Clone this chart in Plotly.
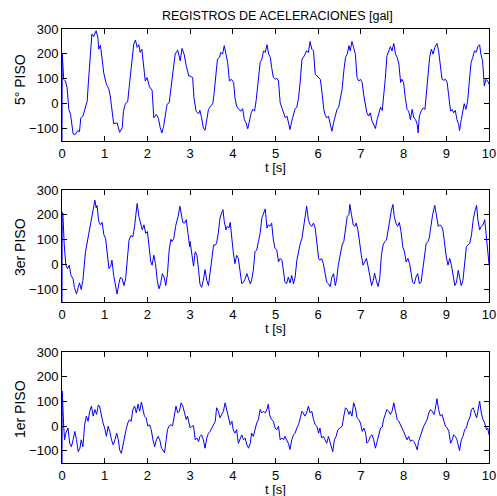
import plotly.graph_objects as go

# ---------------- data ----------------
# 5° PISO
t_p5 = [0, 0.005, 0.04, 0.08, 0.12, 0.16, 0.2, 0.26, 0.31, 0.37,
        0.41, 0.44, 0.49, 0.55, 0.59, 0.62, 0.66, 0.70, 0.74, 0.80,
        0.84, 0.86, 0.90, 0.94, 0.98, 1.04, 1.09, 1.13, 1.17, 1.21,
        1.29, 1.35, 1.41, 1.44, 1.48, 1.54, 1.58, 1.64, 1.68, 1.72,
        1.76, 1.80, 1.83, 1.87, 1.91, 1.95, 1.99, 2.05, 2.11, 2.15,
        2.21, 2.26, 2.30, 2.34, 2.38, 2.42, 2.46, 2.51, 2.55, 2.60,
        2.65, 2.71, 2.77, 2.81, 2.86, 2.91, 2.97,
        3.0, 3.06, 3.09, 3.14, 3.2, 3.23, 3.27, 3.31, 3.35, 3.39,
        3.43, 3.48, 3.53, 3.56, 3.61, 3.64, 3.69, 3.72, 3.76, 3.80,
        3.84, 3.88, 3.92, 3.97, 4.02, 4.05, 4.09, 4.14, 4.19, 4.23,
        4.27, 4.31, 4.35, 4.39, 4.43, 4.47, 4.51, 4.55, 4.6, 4.64,
        4.68, 4.72, 4.76, 4.8, 4.84, 4.88, 4.91, 4.95, 4.99, 5.03,
        5.07, 5.11, 5.15, 5.19, 5.23, 5.27, 5.31, 5.34, 5.38, 5.42,
        5.46, 5.5, 5.54, 5.58, 5.62, 5.66, 5.70, 5.73, 5.77, 5.81,
        5.85, 5.89, 5.93, 5.97, 6.01, 6.05, 6.09, 6.13, 6.16, 6.2,
        6.24, 6.28, 6.32, 6.36, 6.4, 6.44, 6.48,
        6.52, 6.56, 6.6, 6.64, 6.68, 6.72, 6.75, 6.79, 6.83, 6.87,
        6.91, 6.95, 6.99, 7.03, 7.07, 7.11, 7.14, 7.18, 7.22, 7.26,
        7.3, 7.34, 7.38, 7.42, 7.46, 7.5, 7.53, 7.57, 7.61, 7.65,
        7.69, 7.73, 7.77, 7.81, 7.85, 7.89, 7.93, 7.96, 8.0, 8.04,
        8.08, 8.12, 8.16, 8.2, 8.24, 8.28, 8.32, 8.34, 8.37, 8.41,
        8.46, 8.5, 8.53, 8.57, 8.61, 8.65, 8.69, 8.73, 8.78, 8.82,
        8.86, 8.9, 8.94, 8.98, 9.02, 9.06, 9.1, 9.14, 9.17, 9.21,
        9.25, 9.29, 9.31, 9.35, 9.39, 9.42, 9.46, 9.5, 9.54, 9.58,
        9.62, 9.66, 9.7, 9.74, 9.78, 9.81, 9.85, 9.89, 9.93, 9.97,
        10.0]
a_p5 = [-150, 200, 98, 91, 64, -23, -43, -121, -124, -108,
        -113, -57, -50, -16, 10, 91, 185, 280, 269, 293,
        266, 219, 235, 172, 121, 78, 62, 31, -30, -81,
        -77, -115, -97, -30, -3, 10, 78, 192, 239, 256,
        226, 237, 206, 219, 145, 91, 105, 67, 54, -57,
        -43, -60, -97, -118, -91, -37, -3, 4, 64, 145,
        199, 215, 172, 222, 199, 152, 111,
        111, 105, 24, -30, -41, -27, -57, -97, -107, -70,
        -23, -10, 0, 37, 111, 179, 186, 206, 199, 233,
        199, 165, 91, 98, 85, 24, -10, -23, -30, -20,
        -64, -77, -101, -64, -37, -23, -30, 17, 98, 165,
        179, 212, 206, 237, 199, 186, 145, 105, 98, 102,
        91, 3, -17, -37, -57, -50, -91, -104, -70, -43,
        -20, -14, 24, 91, 179, 188, 199, 212, 206, 250,
        219, 212, 118, 111, 105, 98, 44, -23, -43, -57,
        -50, -84, -111, -77, -43, -23, -14,
        31, 58, 132, 186, 199, 233, 212, 250, 226, 199,
        105, 91, 98, 85, 31, -10, -37, -50, -37, -70,
        -84, -100, -64, -37, -14, -27, 17, 98, 192, 212,
        229, 212, 242, 199, 186, 159, 85, 98, 85, 24,
        -23, -30, -64, -23, -57, -64, -84, -117, -50, -30,
        -17, -23, 44, 118, 186, 219, 199, 226, 242, 212,
        159, 98, 94, 98, 85, 24, -30, -23, -37, -27,
        -64, -84, -108, -64, -30, 0, -23, 10, 91, 165,
        186, 212, 206, 229, 237, 199, 172, 71, 98, 91,
        78]

# 3er PISO
t_p3 = [0, 0.005, 0.02, 0.05, 0.09, 0.13, 0.17, 0.21, 0.26, 0.29,
        0.34, 0.38, 0.41, 0.45, 0.49, 0.55, 0.6, 0.65, 0.7, 0.74,
        0.77, 0.8, 0.82, 0.86, 0.9, 0.94, 0.98, 1.02, 1.06, 1.1,
        1.14, 1.17, 1.21, 1.25, 1.29, 1.33, 1.37, 1.41, 1.45, 1.49,
        1.53, 1.57, 1.61, 1.66, 1.7, 1.74, 1.76, 1.8, 1.84, 1.88,
        1.92, 1.96, 2.0, 2.04, 2.08, 2.11, 2.15, 2.19, 2.23, 2.27,
        2.31, 2.35, 2.39, 2.43, 2.47, 2.51, 2.55, 2.58, 2.62, 2.66,
        2.72, 2.76, 2.8, 2.83, 2.87, 2.91, 2.95, 2.99,
        3.0, 3.04, 3.08, 3.12, 3.16, 3.2, 3.23, 3.27, 3.31, 3.35,
        3.39, 3.43, 3.47, 3.51, 3.55, 3.59, 3.62, 3.66, 3.7, 3.74,
        3.77, 3.8, 3.84, 3.87, 3.91, 3.94, 3.98, 4.01, 4.05, 4.09,
        4.13, 4.17, 4.21, 4.25, 4.29, 4.33, 4.37, 4.41, 4.44, 4.48,
        4.52, 4.56, 4.6, 4.64, 4.68, 4.72, 4.76, 4.8, 4.83, 4.87,
        4.91, 4.95, 4.99, 5.03, 5.07, 5.11, 5.15, 5.19, 5.22, 5.26,
        5.3, 5.34, 5.38, 5.42, 5.46, 5.5, 5.54, 5.58, 5.62, 5.65,
        5.69, 5.73, 5.77, 5.81, 5.85, 5.89, 5.93, 5.97, 6.01, 6.04,
        6.08, 6.12, 6.16, 6.2, 6.24, 6.28, 6.32, 6.36, 6.4, 6.43,
        6.47,
        6.52, 6.56, 6.6, 6.64, 6.68, 6.72, 6.74, 6.78, 6.82, 6.86,
        6.89, 6.93, 6.97, 7.01, 7.05, 7.09, 7.13, 7.17, 7.21, 7.25,
        7.29, 7.32, 7.36, 7.4, 7.44, 7.48, 7.52, 7.56, 7.6, 7.64,
        7.68, 7.71, 7.75, 7.78, 7.82, 7.86, 7.9, 7.94, 7.98, 8.02,
        8.06, 8.1, 8.14, 8.18, 8.21, 8.25, 8.29, 8.33, 8.37, 8.41,
        8.45, 8.49, 8.53, 8.57, 8.6, 8.64, 8.68, 8.73, 8.77, 8.81,
        8.85, 8.89, 8.92, 8.96, 9.0, 9.04, 9.08, 9.12, 9.16, 9.2,
        9.24, 9.28, 9.31, 9.35, 9.39, 9.43, 9.47, 9.51, 9.55, 9.59,
        9.63, 9.67, 9.71, 9.74, 9.78, 9.82, 9.86, 9.9, 9.94, 9.98,
        10.0]
a_p3 = [-150, 210, 208, 86, -2, -16, -2, -43, -57, -91,
        -118, -91, -73, -100, -63, 52, 99, 140, 181, 215,
        259, 228, 238, 174, 160, 170, 120, 106, 52, -16,
        -6, 18, -43, -91, -118, -77, -50, -57, -84, -57,
        18, 99, 116, 113, 154, 205, 246, 194, 167, 140,
        160, 126, 133, 65, 11, -2, 38, 4, -63, -97,
        -77, -36, -50, -84, -36, 59, 102, 93, 106, 154,
        194, 235, 194, 170, 167, 181, 126, 72,
        93, 31, -6, 52, 38, -23, -77, -91, -63, -20,
        -63, -84, -36, 31, 79, 79, 86, 126, 187, 208,
        221, 174, 140, 154, 147, 170, 86, 52, 4, 38,
        25, -23, -77, -70, -57, -36, -57, -77, -63, -23,
        52, 59, 93, 126, 187, 208, 224, 147, 160, 154,
        167, 99, 65, 59, 11, 25, 18, -30, -70, -77,
        -50, -74, -43, -77, -50, 18, 59, 86, 106, 147,
        187, 235, 181, 160, 154, 167, 147, 86, 25, 18,
        25, 4, -36, -70, -77, -88, -50, -36, -84, -63,
        -2,
        45, 79, 93, 147, 194, 201, 242, 201, 160, 154,
        167, 140, 79, 38, -2, 11, 25, -9, -50, -84,
        -63, -34, -63, -88, -57, 38, 79, 93, 99, 140,
        194, 215, 242, 194, 167, 154, 170, 133, 72, 52,
        11, 25, 4, -36, -70, -77, -50, -36, -77, -70,
        -23, 38, 86, 93, 106, 154, 201, 238, 201, 154,
        160, 154, 140, 72, 31, -2, 25, -2, -36, -84,
        -70, -23, -50, -84, -63, 4, 72, 79, 86, 120,
        181, 215, 238, 181, 140, 154, 160, 181, 106, 31,
        2]

# 1er PISO
t_p1 = [0, 0.005, 0.04, 0.06, 0.09, 0.14, 0.18, 0.22, 0.26, 0.3,
        0.34, 0.38, 0.42, 0.45, 0.49, 0.53, 0.57, 0.61, 0.65, 0.69,
        0.73, 0.77, 0.81, 0.85, 0.88, 0.92, 0.96, 1.0, 1.04, 1.08,
        1.12, 1.16, 1.2, 1.24, 1.28, 1.32, 1.35, 1.39, 1.43, 1.46,
        1.5, 1.54, 1.58, 1.62, 1.66, 1.7, 1.74, 1.78, 1.82, 1.86,
        1.9, 1.93, 1.97, 2.01, 2.05, 2.09, 2.13, 2.17, 2.21, 2.25,
        2.29, 2.33, 2.36, 2.4, 2.44, 2.47, 2.51, 2.55, 2.59, 2.63,
        2.67, 2.71, 2.75, 2.79, 2.83, 2.87, 2.91, 2.94, 2.98,
        3.0, 3.04, 3.08, 3.12, 3.16, 3.2, 3.23, 3.27, 3.31, 3.35,
        3.39, 3.43, 3.47, 3.51, 3.55, 3.59, 3.62, 3.66, 3.7, 3.74,
        3.78, 3.82, 3.86, 3.9, 3.94, 3.98, 4.01, 4.05, 4.09, 4.13,
        4.17, 4.21, 4.25, 4.29, 4.33, 4.37, 4.41, 4.44, 4.48, 4.52,
        4.56, 4.6, 4.64, 4.68, 4.72, 4.76, 4.8, 4.83, 4.87, 4.91,
        4.95, 4.99, 5.03, 5.07, 5.11, 5.15, 5.19, 5.22, 5.26, 5.3,
        5.34, 5.38, 5.42, 5.46, 5.5, 5.54, 5.58, 5.62, 5.65, 5.69,
        5.73, 5.77, 5.81, 5.85, 5.89, 5.93, 5.97, 6.01, 6.04, 6.08,
        6.12, 6.16, 6.2, 6.24, 6.28, 6.32, 6.34, 6.38, 6.42, 6.46,
        6.5,
        6.56, 6.6, 6.64, 6.68, 6.72, 6.75, 6.79, 6.83, 6.87, 6.91,
        6.95, 6.99, 7.03, 7.07, 7.11, 7.14, 7.18, 7.22, 7.26, 7.3,
        7.34, 7.38, 7.42, 7.46, 7.5, 7.53, 7.57, 7.61, 7.65, 7.69,
        7.73, 7.77, 7.81, 7.85, 7.89, 7.93, 7.96, 8.0, 8.04, 8.08,
        8.12, 8.16, 8.2, 8.24, 8.28, 8.32, 8.35, 8.39, 8.43, 8.47,
        8.51, 8.55, 8.59, 8.63, 8.67, 8.71, 8.74, 8.78, 8.82, 8.86,
        8.9, 8.94, 8.98, 9.02, 9.06, 9.1, 9.14, 9.17, 9.21, 9.25,
        9.29, 9.31, 9.35, 9.39, 9.43, 9.47, 9.51, 9.55, 9.59, 9.63,
        9.67, 9.71, 9.74, 9.78, 9.82, 9.86, 9.9, 9.94, 9.97, 10.0]
a_p1 = [-150, 142, -1, -56, -29, -8, -70, -84, -56, -22,
        -56, -104, -90, -56, -84, 5, 40, 19, 60, 81,
        40, 67, 47, 85, 81, 40, 12, -8, -42, -1,
        -22, -56, -77, -56, -29, -56, -97, -111, -70, -49,
        -15, 12, 26, 19, 67, 81, 53, 88, 60, 97,
        67, 40, 33, -1, 5, -15, -56, -84, -56, -42,
        -56, -90, -97, -108, -56, -15, 1, 5, 1, 40,
        81, 53, 60, 94, 81, 53, 26, 40, 5,
        -8, -1, 1, -56, -49, -63, -42, -36, -56, -90,
        -49, -29, -22, -8, 5, 19, 74, 60, 33, 47,
        60, 94, 67, 40, 5, 19, -15, -29, -15, -70,
        -49, -36, -56, -49, -77, -90, -70, -29, -42, -8,
        12, 26, 67, 53, 60, 53, 67, 88, 40, 26,
        19, -8, -15, -1, -56, -49, -56, -42, -56, -70,
        -95, -56, -36, -29, -8, 5, 33, 60, 53, 40,
        53, 81, 53, 60, 26, 5, -1, -29, -8, -49,
        -42, -56, -70, -42, -63, -84, -104, -56, -42, -15,
        -8,
        -1, 40, 74, 67, 47, 60, 40, 94, 74, 33,
        26, 12, -22, -8, -29, -70, -63, -42, -36, -56,
        -90, -63, -29, -8, -4, 26, 47, 67, 60, 47,
        60, 94, 60, 26, 19, -1, -8, -22, -42, -56,
        -42, -63, -56, -63, -77, -97, -63, -42, -15, -1,
        12, 26, 53, 67, 60, 47, 67, 111, 67, 40,
        47, 26, -1, -8, -22, -70, -56, -36, -42, -56,
        -84, -100, -56, -42, -15, -8, 19, 33, 67, 74,
        53, 33, 60, 101, 53, 26, 12, -15, -8, -36]

x_ticks = [0, 1, 2, 3, 4, 5, 6, 7, 8, 9, 10]
y_ticks = [-100, 0, 100, 200, 300]
y_ticktext = ["\u2212100", "0", "100", "200", "300"]
panel_labels = ["5° PISO", "3er PISO", "1er PISO"]
title_text = "REGISTROS DE ACELERACIONES [gal]"
xlabel_text = "t [s]"

# ---------------- layout (pixel geometry of the reference) ----------------
W, H = 497, 496
x0, x1 = 62, 489            # axes left / right in pixels
panels_px = [(29, 141), (190, 302), (352, 463)]  # top, bottom in pixels
ylabel_cy = [80, 247, 409]  # vertical centres of the y labels
FONT = "Liberation Sans, Arial, Helvetica, sans-serif"


def fx(px):
    return px / W


def fy(py):
    return 1 - py / H


fig = go.Figure()
series = [(t_p5, a_p5), (t_p3, a_p3), (t_p1, a_p1)]
for i, (tt, aa) in enumerate(series):
    sfx = "" if i == 0 else str(i + 1)
    fig.add_trace(go.Scatter(x=tt, y=aa, mode="lines",
                             line=dict(color="#0000ff", width=1),
                             xaxis="x" + sfx, yaxis="y" + sfx,
                             showlegend=False, hoverinfo="skip"))

layout = dict(width=W, height=H, margin=dict(l=0, r=0, t=0, b=0),
              paper_bgcolor="white", plot_bgcolor="white",
              font=dict(family=FONT, color="black", size=13))
annotations = []
for i, (top, bot) in enumerate(panels_px):
    sfx = "" if i == 0 else str(i + 1)
    common = dict(showline=True, linecolor="black", linewidth=1, mirror="ticks",
                  ticks="inside", ticklen=5, tickcolor="black", tickwidth=1,
                  showgrid=False, zeroline=False, automargin=False,
                  ticklabeloverflow="allow",
                  tickfont=dict(family=FONT, size=13, color="black"))
    layout["xaxis" + sfx] = dict(domain=[fx(x0), fx(x1)], range=[0, 10],
                                 tickvals=x_ticks, anchor="y" + sfx, **common)
    layout["yaxis" + sfx] = dict(domain=[fy(bot), fy(top)], range=[-150, 300],
                                 tickvals=y_ticks, ticktext=y_ticktext,
                                 anchor="x" + sfx, **common)
    annotations.append(dict(text=panel_labels[i], x=fx(20), y=fy(ylabel_cy[i]),
                            xref="paper", yref="paper", showarrow=False, textangle=-90,
                            xanchor="center", yanchor="middle",
                            font=dict(family=FONT, size=14, color="black")))
    annotations.append(dict(text=xlabel_text, x=fx((x0 + x1) / 2), y=fy(bot + 26),
                            xref="paper", yref="paper", showarrow=False,
                            xanchor="center", yanchor="middle",
                            font=dict(family=FONT, size=13, color="black")))
annotations.append(dict(text=title_text, x=fx(277), y=fy(15.5),
                        xref="paper", yref="paper", showarrow=False,
                        xanchor="center", yanchor="middle",
                        font=dict(family=FONT, size=12.5, color="black")))
layout["annotations"] = annotations
fig.update_layout(**layout)
# remove the default page margin so the figure fills the window exactly
fig.write_html("out.html",
               config={"displayModeBar": False, "staticPlot": True},
               post_script="document.body.style.margin='0px';"
                           "document.body.style.overflow='hidden';")
